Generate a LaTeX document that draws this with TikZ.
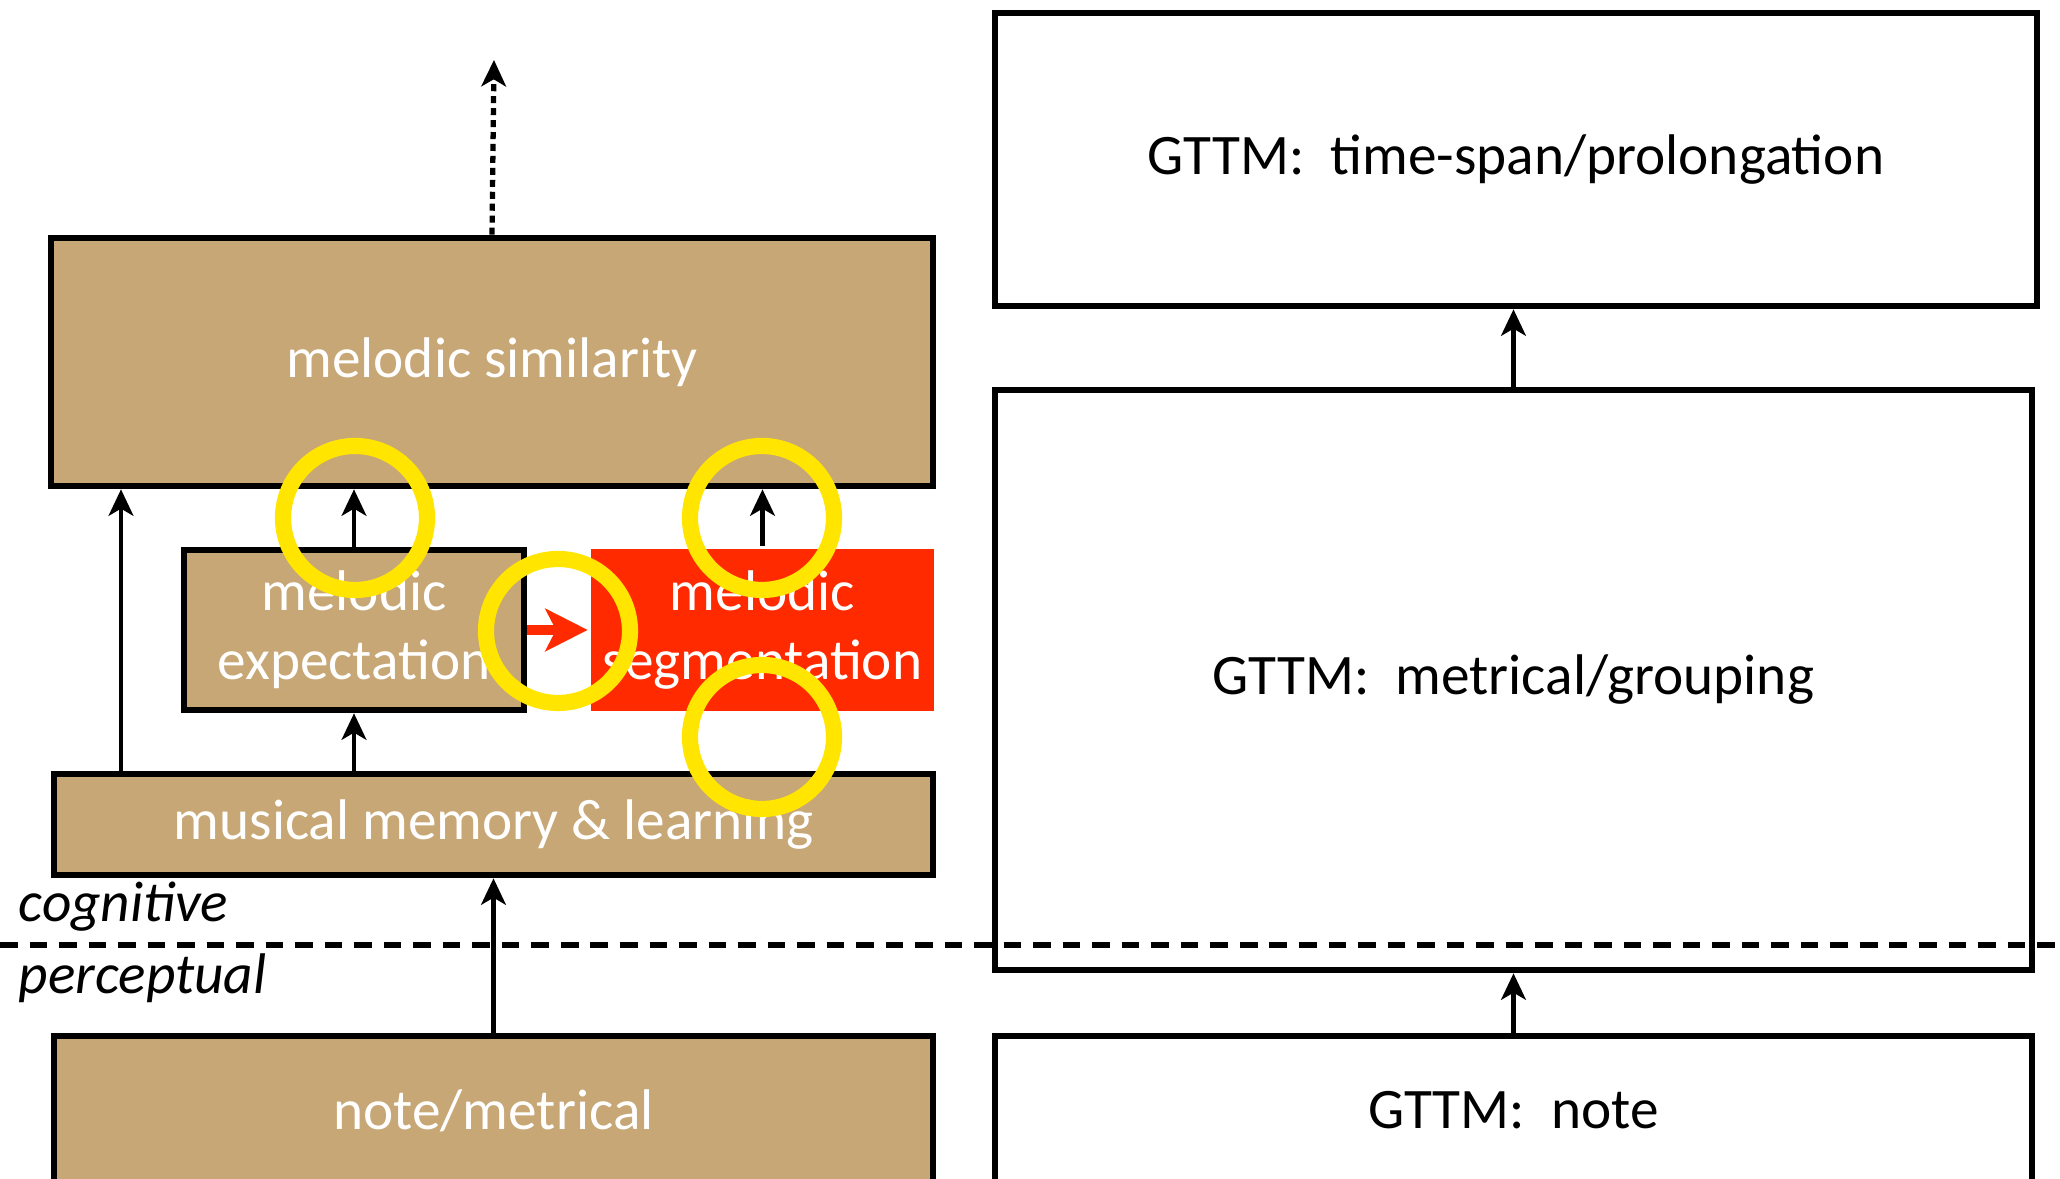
\documentclass[tikz,border=0pt]{standalone}
\usepackage{fontspec}
\setmainfont{Carlito}
\usepackage{tikz}
\usetikzlibrary{calc,arrows.meta}
\definecolor{tan}{RGB}{200,167,118}
\definecolor{segred}{RGB}{255,42,0}
\definecolor{ringyellow}{RGB}{255,229,0}

\begin{document}
\begin{tikzpicture}[
    box/.style={draw, line width=1.9pt, inner sep=0pt, align=center, font=\fontsize{16.3}{19.5}\selectfont},
    tanbox/.style={box, fill=tan, text=white},
    arr/.style={-{Stealth[length=7.5pt,width=7pt,inset=2pt]}, line width=1.4pt},
    ring/.style={draw=ringyellow, line width=4.6pt}
  ]
      \useasboundingbox (0,0) rectangle (20.6,11.79);
      \clip (0,0) rectangle (20.6,11.79);

      % left column
      \node (sim) at (4.92,8.17) [tanbox, minimum width=8.82cm, minimum height=2.48cm, text depth=0.08cm] {melodic similarity};
      \node (exp) at (3.54,5.49) [tanbox, minimum width=3.40cm, minimum height=1.60cm] {melodic\\expectation};
      \node (seg) at (7.625,5.49) [box, draw=none, fill=segred, text=white, minimum width=3.43cm, minimum height=1.62cm] {melodic\\segmentation};
      \node (mem) at (4.935,3.545) [tanbox, minimum width=8.79cm, minimum height=1.01cm] {musical memory \& learning};
      \node (nm) at (4.935,0.685) [tanbox, minimum width=8.79cm, minimum height=1.49cm] {note/metrical};
      \coordinate (lft) at (1.21,4);
      \coordinate (up) at (4.94,11.19);

      % right column
      \node (ts) at (15.16,10.195) [box, minimum width=10.42cm, minimum height=2.93cm] {GTTM:\ \ time-span/prolongation};
      \node (mg) at (15.135,4.99) [box, minimum width=10.37cm, minimum height=5.80cm] {GTTM:\ \ metrical/grouping};
      \node (gn) at (15.135,0.685) [box, minimum width=10.37cm, minimum height=1.49cm] {GTTM:\ \ note};

      \draw[arr, dash pattern=on 2pt off 1.4pt, line width=1.5pt] (sim.north) to (up);
      \draw[arr] (mem.north -| lft) to (sim.south -| lft);
      \draw[arr] (exp.north) to (exp.north |- sim.south);
      \draw[arr] (seg.north) to (seg.north |- sim.south);
      \draw[arr] (exp.south |- mem.north) to (exp.south);
      \draw[arr] (nm.north) to (mem.south);
      \draw[arr] (mg.north) to (mg.north |- ts.south);
      \draw[arr] (gn.north) to (mg.south);
      \draw[-{Stealth[length=12pt,width=12pt,inset=3pt]}, draw=segred, fill=segred, line width=2.6pt] (exp.east) to (seg.west);

      % cognitive / perceptual
      \draw[line width=1.6pt, dash pattern=on 5pt off 3.4pt] (0,2.34) to (20.6,2.34);
      \node (cog) at (0.18,2.57) [anchor=base west, inner sep=0pt, font=\fontsize{16.3}{19.5}\selectfont\itshape] {cognitive};
      \node (per) at (0.18,1.85) [anchor=base west, inner sep=0pt, font=\fontsize{16.3}{19.5}\selectfont\itshape] {perceptual};

      % highlight rings
      \draw[ring] (3.55,6.61) circle (0.72);
      \draw[ring] (7.62,6.61) circle (0.72);
      \draw[ring] (5.58,5.48) circle (0.72);
      \draw[ring] (7.62,4.42) circle (0.72);
\end{tikzpicture}
\end{document}
